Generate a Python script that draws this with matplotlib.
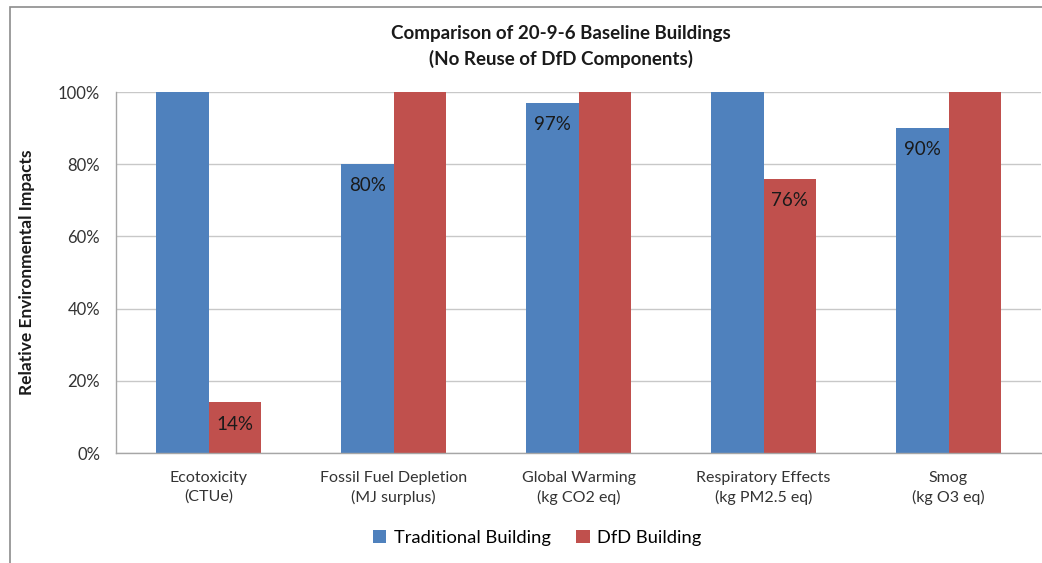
import matplotlib
matplotlib.use("Agg")
import matplotlib.pyplot as plt
from matplotlib.patches import Rectangle
import numpy as np

plt.rcParams['font.family'] = ['Lato', 'DejaVu Sans']

categories = ["Ecotoxicity\n(CTUe)", "Fossil Fuel Depletion\n(MJ surplus)",
              "Global Warming\n(kg CO2 eq)", "Respiratory Effects\n(kg PM2.5 eq)",
              "Smog\n(kg O3 eq)"]
traditional = [100, 80, 97, 100, 90]
dfd = [14, 100, 100, 76, 100]
yticks = [0, 20, 40, 60, 80, 100]

blue = "#4F81BD"
red = "#C0504D"

fig = plt.figure(figsize=(10.42, 5.63), dpi=100)
fig.patches.append(Rectangle((10 / 1042, -0.1), 1.2, 1 - 7 / 563 + 0.1,
                             transform=fig.transFigure, fill=False,
                             edgecolor="#8c8c8c", linewidth=1.2))

ax = fig.add_axes([116 / 1042, 1 - 453 / 563, 925 / 1042, (453 - 92) / 563])
ax.set_axisbelow(True)
ax.yaxis.grid(True, color="#c8c8c8", linewidth=1)
x = np.arange(len(categories))
w = 0.284
b1 = ax.bar(x - w / 2, traditional, w, color=blue, label="Traditional Building")
b2 = ax.bar(x + w / 2, dfd, w, color=red, label="DfD Building")

for bars, vals in ((b1, traditional), (b2, dfd)):
    for rect, v in zip(bars, vals):
        if v < 100:
            ax.text(rect.get_x() + rect.get_width() / 2, v - 6, f"{v}%",
                    ha="center", va="center", fontsize=13.5, color="#1a1a1a")

ax.set_xlim(-0.5, len(categories) - 0.5)
ax.set_ylim(0, 100)
ax.set_yticks(yticks)
ax.set_yticklabels([f"{t}%" for t in yticks], fontsize=12, color="#333333")
ax.set_xticks(x)
ax.set_xticklabels(categories, fontsize=11.5, color="#333333", linespacing=1.4)
ax.tick_params(axis="both", length=0)
ax.tick_params(axis="y", pad=11.5)
ax.tick_params(axis="x", pad=13)
for s in ("top", "right"):
    ax.spines[s].set_visible(False)
for s in ("left", "bottom"):
    ax.spines[s].set_color("#a6a6a6")
    ax.spines[s].set_linewidth(1)

ax.set_ylabel("Relative Environmental Impacts", fontsize=12.5, fontweight="bold",
              color="#1a1a1a")
ax.yaxis.set_label_coords((35 - 116) / 925, 0.5)

fig.text(561 / 1042, 1 - 34 / 563, "Comparison of 20-9-6 Baseline Buildings",
         ha="center", va="center", fontsize=13.5, fontweight="bold", color="#1a1a1a")
fig.text(561 / 1042, 1 - 59 / 563, "(No Reuse of DfD Components)",
         ha="center", va="center", fontsize=13.5, fontweight="bold", color="#1a1a1a")

fig.legend(handles=[b1, b2], loc="center", bbox_to_anchor=(537 / 1042, 1 - 538 / 563),
           ncol=2, frameon=False, fontsize=13.2, handlelength=0.75, handleheight=0.75,
           handletextpad=0.4, columnspacing=1.4)

fig.savefig("out.png", dpi=100)
